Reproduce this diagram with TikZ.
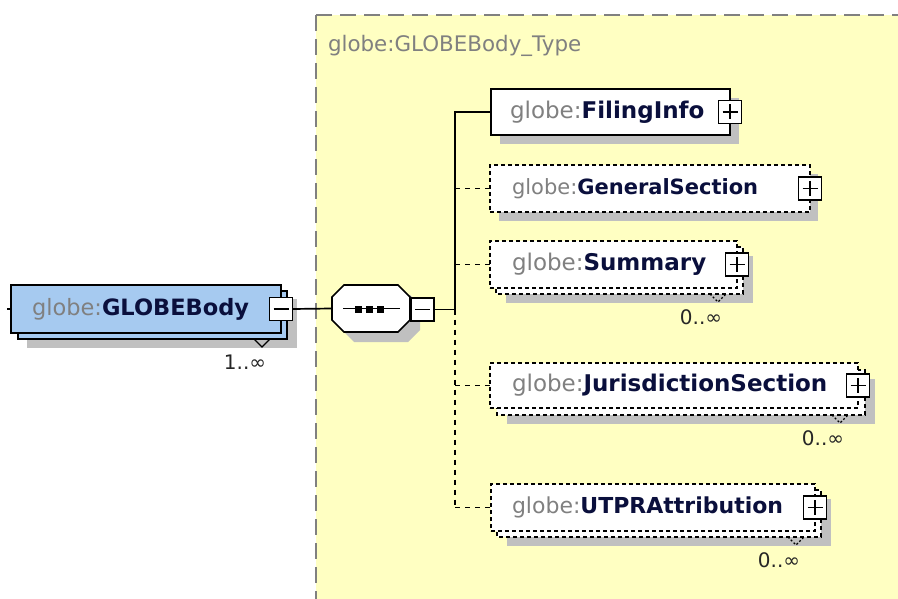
\documentclass[tikz,border=0pt]{standalone}
\usepackage{fontspec}
\setmainfont{DejaVu Sans}
\definecolor{typebg}{RGB}{255,255,194}
\definecolor{typeline}{RGB}{128,128,128}
\definecolor{shadowc}{RGB}{192,192,192}
\definecolor{bodyblue}{RGB}{166,202,240}
\definecolor{prefixc}{RGB}{128,128,128}
\definecolor{namec}{RGB}{10,15,60}
\newcommand\gname[1]{{\color{prefixc}globe:}{\bfseries\color{namec}#1}}
\newcommand\fsz[1]{\fontsize{#1}{#1}\selectfont}
\begin{document}
\begin{tikzpicture}[x=1pt,y=-1pt,
  every node/.style={inner sep=0pt,outer sep=0pt},
  multfont/.style={font=\fsz{20},text=black!85},
  ebox/.style={draw,fill=white,line width=1.7pt,anchor=north west},
  eboxd/.style={ebox,dash pattern=on 4pt off 3pt},
  backd/.style={draw,fill=white,line width=1.7pt,dash pattern=on 4pt off 3pt},
  pmbox/.style={draw,fill=white,line width=1.7pt,minimum size=23pt},
  pmline/.style={line width=1.7pt},
  conn/.style={line width=1.7pt},
  connd/.style={line width=1.7pt,dash pattern=on 5pt off 5pt},
  vmark/.style={line width=1.2pt,dash pattern=on 2pt off 2pt},
  typeline/.style={draw=typeline,line width=2pt,dash pattern=on 16pt off 8pt}]
\useasboundingbox (0,0) rectangle (898,599);
\fill[white] (0,0) rectangle (898,599);
% type region
\fill[typebg] (316,15) rectangle (898,599);
\draw[typeline] (316,15) -- (898,15);
\draw[typeline] (316,15) -- (316,599);
\node[anchor=west,font=\fsz{21.4},text=prefixc] (title) at (328,46) {globe:GLOBEBody\_Type};

% ---- GLOBEBody ----
\fill[shadowc] (27,299) rectangle (297,348);
\draw[fill=bodyblue,line width=1.7pt] (18,291) rectangle (287,339);
\node[ebox,fill=bodyblue,minimum width=270pt,minimum height=48pt] (body) at (11,285) {};
\node[anchor=west,font=\fsz{22.5}] (bodyt) at ([xshift=21pt]body.west) {\gname{GLOBEBody}};
\node[pmbox] (bodym) at (body.east) {};
\draw[pmline] ([xshift=4pt]bodym.west) -- ([xshift=-4pt]bodym.east);
\draw[line width=1.2pt] (254,339) -- (262,347) -- (270,339);
\node[multfont] (bodyn) at (245,362) {1..∞};
\coordinate (bodyin) at (7,309);
\draw[conn] (bodyin) -- (body.west);

% ---- sequence compositor ----
\fill[shadowc] (354,295) -- (410,295) -- (420,305) -- (420,330) -- (408,342) -- (354,342) -- (342,330) -- (342,307) -- cycle;
\node[minimum width=78pt,minimum height=47pt,anchor=north west] (seq) at (332,285) {};
\draw[fill=white,line width=1.7pt] (344,285) -- (398,285) -- (410,297) -- (410,320) -- (398,332) -- (344,332) -- (332,320) -- (332,297) -- cycle;
\draw[line width=1.5pt] ([xshift=11pt]seq.west) -- ([xshift=-10pt]seq.east);
\foreach \sx in {358,369,380} \fill (\sx-3.5,305.5) rectangle (\sx+3.5,312.5);
\node[pmbox] (seqm) at (422.5,309.5) {};
\draw[pmline] ([xshift=4pt]seqm.west) -- ([xshift=-4pt]seqm.east);
\draw[conn] (bodym.east) -- (seq.west);
\coordinate (tr) at (455,309.5);
\draw[conn] (seqm.east) -- (tr);

% ---- FilingInfo ----
\fill[shadowc] (500,98) rectangle (739,144);
\node[ebox,minimum width=239pt,minimum height=46pt] (fi) at (491,89) {};
\node[anchor=west,font=\fsz{23}] (fit) at ([xshift=19pt]fi.west) {\gname{FilingInfo}};
\node[pmbox] (fip) at (fi.east) {};

% ---- GeneralSection ----
\fill[shadowc] (499,174) rectangle (818,221);
\node[eboxd,minimum width=320pt,minimum height=47pt] (gs) at (490,165) {};
\node[anchor=west,font=\fsz{21}] (gst) at ([xshift=22pt]gs.west) {\gname{GeneralSection}};
\node[pmbox] (gsp) at (gs.east) {};

% ---- Summary ----
\fill[shadowc] (506,256) rectangle (753,303);
\draw[backd] (496,247) rectangle (743,294);
\node[eboxd,minimum width=247pt,minimum height=47pt] (su) at (490,241) {};
\node[anchor=west,font=\fsz{23}] (sut) at ([xshift=22pt]su.west) {\gname{Summary}};
\node[pmbox] (sup) at (su.east) {};
\draw[vmark] (710,294) -- (718,302) -- (726,294);
\node[multfont] (sun) at (701,317) {0..∞};

% ---- JurisdictionSection ----
\fill[shadowc] (507,379) rectangle (875,424);
\draw[backd] (497,370) rectangle (865,415);
\node[eboxd,minimum width=368pt,minimum height=45pt] (ju) at (490,363) {};
\node[anchor=west,font=\fsz{23}] (jut) at ([xshift=22pt]ju.west) {\gname{JurisdictionSection}};
\node[pmbox] (jup) at (ju.east) {};
\draw[vmark] (832,415) -- (840,423) -- (848,415);
\node[multfont] (jun) at (823,438) {0..∞};

% ---- UTPRAttribution ----
\fill[shadowc] (507,499) rectangle (831,546);
\draw[backd] (497,490) rectangle (821,537);
\node[eboxd,minimum width=324pt,minimum height=47pt] (ut) at (491,484) {};
\node[anchor=west,font=\fsz{22}] (utt) at ([xshift=21pt]ut.west) {\gname{UTPRAttribution}};
\node[pmbox] (utp) at (ut.east) {};
\draw[vmark] (788,537) -- (796,545) -- (804,537);
\node[multfont] (utn) at (779,560) {0..∞};

% plus signs
\foreach \p in {fip,gsp,sup,jup,utp} {
  \draw[pmline] ([xshift=4pt]\p.west) -- ([xshift=-4pt]\p.east);
  \draw[pmline] ([yshift=-4pt]\p.north) -- ([yshift=4pt]\p.south);
}

% ---- connectors ----
\draw[conn] (tr) |- (fi.west);
\draw[connd] (tr) -- (tr |- ut.west);
\draw[connd] (tr |- gs.west) -- (gs.west);
\draw[connd] (tr |- su.west) -- (su.west);
\draw[connd] (tr |- ju.west) -- (ju.west);
\draw[connd] (tr |- ut.west) -- (ut.west);
\end{tikzpicture}
\end{document}
